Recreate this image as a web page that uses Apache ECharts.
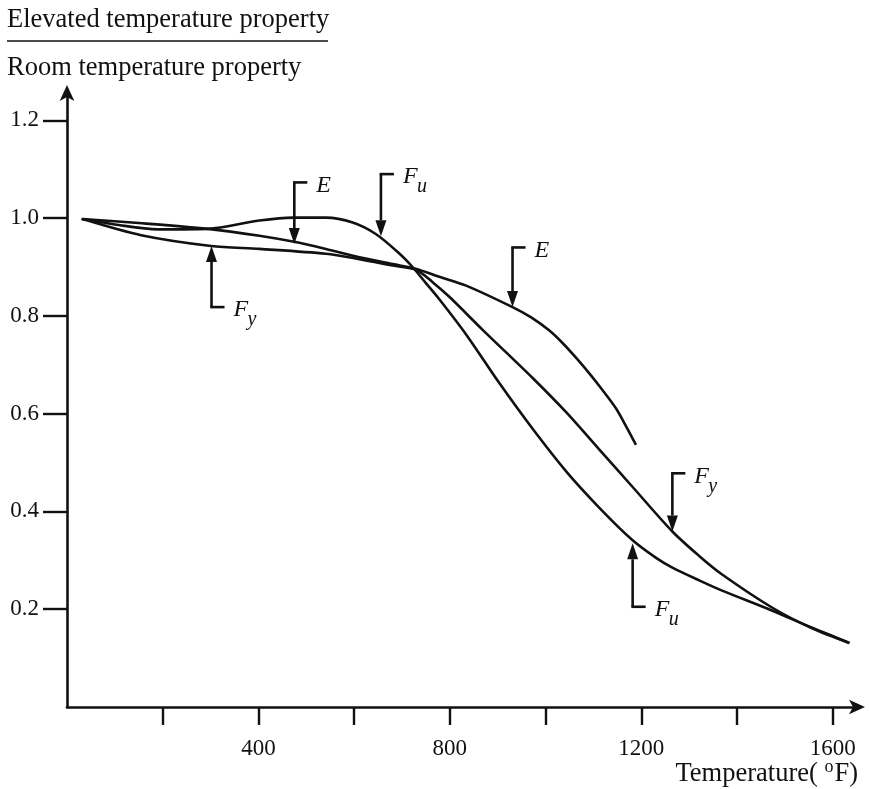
<!DOCTYPE html>
<html><head><meta charset="utf-8">
<script src="https://cdn.jsdelivr.net/npm/echarts@6/dist/echarts.min.js"></script>
<style>html,body{margin:0;padding:0;background:#fff}#c{width:869px;height:789px}</style>
</head><body><div id="c"></div>
<script>
// Ultimate strength Fu
const fuTemp = [30, 100, 190, 294, 402, 472, 541, 597, 646, 695, 722, 750, 778, 834, 903, 973, 1043, 1112, 1182, 1231, 1265, 1321, 1369, 1474, 1557, 1635];
const fuVal  = [0.998, 0.987, 0.977, 0.978, 0.995, 1.001, 1.001, 0.991, 0.967, 0.927, 0.900, 0.867, 0.834, 0.762, 0.663, 0.569, 0.482, 0.408, 0.341, 0.305, 0.285, 0.259, 0.238, 0.197, 0.162, 0.131];
// Modulus of elasticity E
const eTemp = [33, 150, 294, 402, 472, 541, 611, 681, 730, 778, 834, 931, 970, 1008, 1035, 1064, 1091, 1112, 1147, 1170, 1189];
const eVal  = [0.998, 0.990, 0.978, 0.964, 0.952, 0.937, 0.920, 0.906, 0.896, 0.880, 0.862, 0.818, 0.797, 0.770, 0.745, 0.714, 0.683, 0.657, 0.611, 0.571, 0.536];
// Yield strength Fy
const fyTemp = [33, 155, 301, 402, 541, 611, 681, 730, 764, 800, 868, 973, 1043, 1112, 1182, 1265, 1321, 1369, 1474, 1557, 1635];
const fyVal  = [0.998, 0.965, 0.943, 0.937, 0.927, 0.916, 0.903, 0.894, 0.869, 0.838, 0.772, 0.673, 0.603, 0.527, 0.450, 0.359, 0.309, 0.271, 0.203, 0.161, 0.131];

const xTickValues = [200, 400, 600, 800, 1000, 1200, 1400, 1600];
const xLabelValues = [400, 800, 1200, 1600];
const yTickValues = [0.2, 0.4, 0.6, 0.8, 1.0, 1.2];

// Annotation arrows (data coordinates)
const annoTemp = [475, 656, 931, 302, 1265, 1182];
const annoTip  = [0.947, 0.963, 0.818, 0.943, 0.359, 0.335];
const annoTail = [1.073, 1.090, 0.940, 0.818, 0.478, 0.205];
const annoLetter = ['E', 'F', 'E', 'F', 'F', 'F'];
const annoSub    = ['', 'u', '', 'y', 'y', 'u'];

const serif = '"Liberation Serif", "DejaVu Serif", serif';
const ink = '#111';

function pairs(t, v) { return t.map((x, i) => [x, v[i]]); }

const chart = echarts.init(document.getElementById('c'), null, {renderer: 'canvas'});

const lineStyle = {color: ink, width: 2.6};
const option = {
  animation: false,
  backgroundColor: '#fff',
  grid: {left: 67, right: 10, top: 91, bottom: 82, containLabel: false},
  xAxis: {
    type: 'value', min: 0, max: 1655,
    splitLine: {show: false},
    axisLine: {show: true, onZero: false, lineStyle: {color: ink, width: 2.6}, symbol: ['none', 'arrow'], symbolSize: [11, 16], symbolOffset: [0, 6]},
    axisTick: {show: true, inside: false, length: 18, lineStyle: {color: ink, width: 2.4}, customValues: xTickValues},
    axisLabel: {show: true, margin: 30, color: ink, fontFamily: serif, fontSize: 23, customValues: xLabelValues, formatter: v => String(v)}
  },
  yAxis: {
    type: 'value', min: 0, max: 1.26,
    splitLine: {show: false},
    axisLine: {show: true, onZero: false, lineStyle: {color: ink, width: 2.6}, symbol: ['none', 'arrow'], symbolSize: [11, 16], symbolOffset: [0, 6]},
    axisTick: {show: true, inside: false, length: 24, lineStyle: {color: ink, width: 2.4}, customValues: yTickValues},
    axisLabel: {show: true, margin: 28, color: ink, fontFamily: serif, fontSize: 23, customValues: yTickValues, formatter: v => v.toFixed(1)}
  },
  series: [
    {name: 'Fu', type: 'line', data: pairs(fuTemp, fuVal), smooth: 0.3, showSymbol: false, symbol: 'none', lineStyle: lineStyle},
    {name: 'E', type: 'line', data: pairs(eTemp, eVal), smooth: 0.3, showSymbol: false, symbol: 'none', lineStyle: lineStyle},
    {name: 'Fy', type: 'line', data: pairs(fyTemp, fyVal), smooth: 0.3, showSymbol: false, symbol: 'none', lineStyle: lineStyle}
  ]
};
chart.setOption(option);

const g = [];
// Title fraction
g.push({type: 'text', left: 7, top: 7, style: {text: 'Elevated temperature property', fontFamily: serif, fontSize: 26.5, fill: ink}});
g.push({type: 'line', shape: {x1: 7, y1: 41, x2: 328, y2: 41}, style: {stroke: ink, lineWidth: 1.6}});
g.push({type: 'text', left: 7, top: 55, style: {text: 'Room temperature property', fontFamily: serif, fontSize: 26.5, fill: ink}});
// x axis name
g.push({type: 'text', right: 11, top: 758, style: {
  text: '{a|Temperature( }{o|o}{a|F)}', fontFamily: serif, fill: ink,
  rich: {a: {fontFamily: serif, fontSize: 26.5, fill: ink}, o: {fontFamily: serif, fontSize: 18, fill: ink, padding: [0, 1, 14, 0]}}
}});

for (let i = 0; i < annoTemp.length; i++) {
  const tip = chart.convertToPixel({gridIndex: 0}, [annoTemp[i], annoTip[i]]);
  const tail = chart.convertToPixel({gridIndex: 0}, [annoTemp[i], annoTail[i]]);
  const dir = tip[1] > tail[1] ? 1 : -1; // 1: points down
  const headLen = 16, headHalf = 5.5;
  const baseY = tip[1] - dir * headLen;
  g.push({type: 'line', shape: {x1: tail[0], y1: tail[1], x2: tail[0], y2: baseY}, style: {stroke: ink, lineWidth: 2.6}});
  g.push({type: 'polygon', shape: {points: [[tip[0], tip[1]], [tip[0] - headHalf, baseY], [tip[0] + headHalf, baseY]]}, style: {fill: ink}});
  g.push({type: 'line', shape: {x1: tail[0] - 1.3, y1: tail[1], x2: tail[0] + 13, y2: tail[1]}, style: {stroke: ink, lineWidth: 2.6}});
  const lx = tail[0] + 22, ly = tail[1] + 3;
  g.push({type: 'text', x: lx, y: ly, style: {text: annoLetter[i], fontFamily: serif, fontStyle: 'italic', fontSize: 24, fill: ink, verticalAlign: 'middle', align: 'left'}});
  if (annoSub[i]) {
    g.push({type: 'text', x: lx + 14, y: ly + 10, style: {text: annoSub[i], fontFamily: serif, fontStyle: 'italic', fontSize: 20, fill: ink, verticalAlign: 'middle', align: 'left'}});
  }
}
chart.setOption({graphic: g});
</script>
</body></html>
